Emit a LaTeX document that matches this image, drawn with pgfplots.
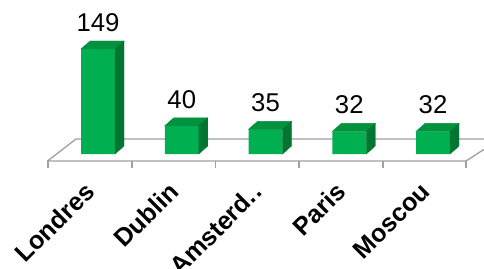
\documentclass[border=0pt]{standalone}
\usepackage{fontspec}
\setmainfont{Liberation Sans}
\usepackage{pgfplots}
\pgfplotsset{compat=1.18}
\definecolor{frontgreen}{RGB}{0,176,80}
\definecolor{topgreen}{RGB}{0,146,63}
\definecolor{sidegreen}{RGB}{0,118,50}
\definecolor{floorgray}{RGB}{160,160,160}
\pgfdeclareplotmark{nothing}{}
\begin{document}
\begin{tikzpicture}[x=1bp,y=1bp]
% floor (3D base of the chart)
\draw[floorgray, line width=1.3bp, line join=round] (47.5,107) -- (76,129) -- (500,129) -- (466,107) -- cycle;
\foreach \tx in {48,132,215.5,299,383,466}{
  \draw[floorgray, line width=1.3bp] (\tx,107) -- (\tx,100);
}
\begin{axis}[
  at={(0,0)}, anchor=south west,
  scale only axis, width=484bp, height=268bp,
  xmin=-1.17015, xmax=4.60896,
  ymin=-161.77, ymax=218.53,
  clip=false,
  axis line style={draw=none},
  major tick length=0pt,
  ytick=\empty,
  xtick={0,1,2,3,4},
  xticklabels={Londres,Dublin,Amsterd.\kern1.5bp.,Paris,Moscou},
  xticklabel shift=-81bp,
  x tick label style={font=\fontsize{25.3}{25}\selectfont\bfseries, inner sep=0pt, xshift=-8bp, rotate=45, anchor=east},
  /pgf/number format/assume math mode=true,
]
\addplot[ybar, bar width=34bp, draw=none, fill=frontgreen,
  nodes near coords,
  every node near coord/.append style={font=\fontsize{25.8}{26}\selectfont, text=black, anchor=base, yshift=17.5bp, inner sep=0pt},
] coordinates {(0,149) (1,40) (2,35) (3,32) (4,32)};
\addplot[scatter, only marks, mark=nothing,
  visualization depends on={y \as \val},
  scatter/@pre marker code/.code={%
    \fill[topgreen] (-17bp,0bp) -- (-8bp,8bp) -- (26bp,8bp) -- (17bp,0bp) -- cycle;
    \fill[sidegreen] (17bp,0bp) -- (26bp,8bp) -- (26bp,{8bp-\val*0.7047bp}) -- (17bp,{-\val*0.7047bp}) -- cycle;
  },
  scatter/@post marker code/.code={},
] coordinates {(0,149) (1,40) (2,35) (3,32) (4,32)};
\end{axis}
\pgfresetboundingbox
\useasboundingbox (0,0) rectangle (484,268);
\end{tikzpicture}
\end{document}
